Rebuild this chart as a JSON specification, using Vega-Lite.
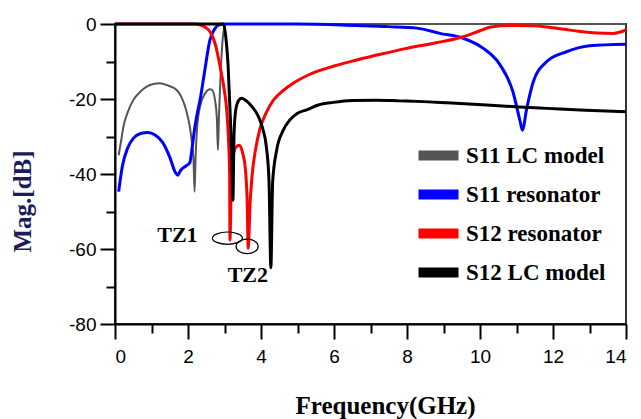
{
  "$schema": "https://vega.github.io/schema/vega-lite/v6.json",
  "width": 511,
  "height": 300,
  "autosize": "none",
  "padding": {"left": 115, "top": 24, "right": 15, "bottom": 95},
  "background": "white",
  "config": {
    "view": {"stroke": "#333333", "strokeWidth": 2},
    "font": "Liberation Sans"
  },
  "datasets": {
    "curves": [
      {"s": "S11 LC model", "f": 0.1, "db": -35},
      {"s": "S11 LC model", "f": 0.17, "db": -31},
      {"s": "S11 LC model", "f": 0.23, "db": -27.4},
      {"s": "S11 LC model", "f": 0.35, "db": -23.5},
      {"s": "S11 LC model", "f": 0.5, "db": -20.3},
      {"s": "S11 LC model", "f": 0.7, "db": -18},
      {"s": "S11 LC model", "f": 0.87, "db": -16.7},
      {"s": "S11 LC model", "f": 1.05, "db": -16},
      {"s": "S11 LC model", "f": 1.23, "db": -15.8},
      {"s": "S11 LC model", "f": 1.45, "db": -16.4},
      {"s": "S11 LC model", "f": 1.69, "db": -17.6},
      {"s": "S11 LC model", "f": 1.82, "db": -19.5},
      {"s": "S11 LC model", "f": 1.92, "db": -22},
      {"s": "S11 LC model", "f": 2.0, "db": -25},
      {"s": "S11 LC model", "f": 2.05, "db": -27.4},
      {"s": "S11 LC model", "f": 2.1, "db": -31},
      {"s": "S11 LC model", "f": 2.15, "db": -36},
      {"s": "S11 LC model", "f": 2.18, "db": -44.7},
      {"s": "S11 LC model", "f": 2.21, "db": -35},
      {"s": "S11 LC model", "f": 2.24, "db": -29},
      {"s": "S11 LC model", "f": 2.33, "db": -22},
      {"s": "S11 LC model", "f": 2.47, "db": -18.5},
      {"s": "S11 LC model", "f": 2.6, "db": -17.4},
      {"s": "S11 LC model", "f": 2.66, "db": -17.6},
      {"s": "S11 LC model", "f": 2.74, "db": -20.3},
      {"s": "S11 LC model", "f": 2.79, "db": -25},
      {"s": "S11 LC model", "f": 2.82, "db": -33.6},
      {"s": "S11 LC model", "f": 2.85, "db": -24},
      {"s": "S11 LC model", "f": 2.9, "db": -12},
      {"s": "S11 LC model", "f": 2.95, "db": -4},
      {"s": "S11 LC model", "f": 3.0, "db": -1},
      {"s": "S11 LC model", "f": 3.05, "db": 0},
      {"s": "S11 LC model", "f": 14, "db": 0},

      {"s": "S11 resonator", "f": 0.1, "db": -44.7},
      {"s": "S11 resonator", "f": 0.2, "db": -38},
      {"s": "S11 resonator", "f": 0.35, "db": -33},
      {"s": "S11 resonator", "f": 0.5, "db": -30.5},
      {"s": "S11 resonator", "f": 0.7, "db": -29.2},
      {"s": "S11 resonator", "f": 0.9, "db": -28.9},
      {"s": "S11 resonator", "f": 1.1, "db": -29.6},
      {"s": "S11 resonator", "f": 1.3, "db": -31.5},
      {"s": "S11 resonator", "f": 1.5, "db": -35.5},
      {"s": "S11 resonator", "f": 1.65, "db": -39.5},
      {"s": "S11 resonator", "f": 1.72, "db": -40.3},
      {"s": "S11 resonator", "f": 1.8, "db": -39},
      {"s": "S11 resonator", "f": 1.95, "db": -37.8},
      {"s": "S11 resonator", "f": 2.05, "db": -37},
      {"s": "S11 resonator", "f": 2.1, "db": -34},
      {"s": "S11 resonator", "f": 2.18, "db": -28},
      {"s": "S11 resonator", "f": 2.25, "db": -24},
      {"s": "S11 resonator", "f": 2.33, "db": -20.3},
      {"s": "S11 resonator", "f": 2.45, "db": -13},
      {"s": "S11 resonator", "f": 2.6, "db": -4.3},
      {"s": "S11 resonator", "f": 2.72, "db": -1.5},
      {"s": "S11 resonator", "f": 2.83, "db": -0.3},
      {"s": "S11 resonator", "f": 3.0, "db": 0},
      {"s": "S11 resonator", "f": 5.0, "db": 0},
      {"s": "S11 resonator", "f": 6.6, "db": -0.4},
      {"s": "S11 resonator", "f": 7.5, "db": -0.7},
      {"s": "S11 resonator", "f": 8.27, "db": -1.1},
      {"s": "S11 resonator", "f": 8.9, "db": -2.5},
      {"s": "S11 resonator", "f": 9.54, "db": -3.8},
      {"s": "S11 resonator", "f": 10.09, "db": -6.5},
      {"s": "S11 resonator", "f": 10.55, "db": -10.9},
      {"s": "S11 resonator", "f": 10.9, "db": -18},
      {"s": "S11 resonator", "f": 11.1, "db": -26},
      {"s": "S11 resonator", "f": 11.16, "db": -28.3},
      {"s": "S11 resonator", "f": 11.28, "db": -22.5},
      {"s": "S11 resonator", "f": 11.46, "db": -15.4},
      {"s": "S11 resonator", "f": 11.83, "db": -10},
      {"s": "S11 resonator", "f": 12.37, "db": -7.4},
      {"s": "S11 resonator", "f": 13.0, "db": -5.8},
      {"s": "S11 resonator", "f": 14.0, "db": -5.4},

      {"s": "S12 resonator", "f": 0, "db": 0},
      {"s": "S12 resonator", "f": 2.19, "db": 0},
      {"s": "S12 resonator", "f": 2.4, "db": -0.5},
      {"s": "S12 resonator", "f": 2.6, "db": -2},
      {"s": "S12 resonator", "f": 2.75, "db": -5.5},
      {"s": "S12 resonator", "f": 2.88, "db": -11.4},
      {"s": "S12 resonator", "f": 3.0, "db": -18},
      {"s": "S12 resonator", "f": 3.06, "db": -22.9},
      {"s": "S12 resonator", "f": 3.11, "db": -31},
      {"s": "S12 resonator", "f": 3.14, "db": -40},
      {"s": "S12 resonator", "f": 3.15, "db": -57.6},
      {"s": "S12 resonator", "f": 3.18, "db": -45},
      {"s": "S12 resonator", "f": 3.23, "db": -36},
      {"s": "S12 resonator", "f": 3.3, "db": -33},
      {"s": "S12 resonator", "f": 3.4, "db": -32.3},
      {"s": "S12 resonator", "f": 3.5, "db": -34.5},
      {"s": "S12 resonator", "f": 3.57, "db": -38.5},
      {"s": "S12 resonator", "f": 3.62, "db": -47},
      {"s": "S12 resonator", "f": 3.65, "db": -59.8},
      {"s": "S12 resonator", "f": 3.7, "db": -48},
      {"s": "S12 resonator", "f": 3.76, "db": -40},
      {"s": "S12 resonator", "f": 3.85, "db": -33.5},
      {"s": "S12 resonator", "f": 3.97, "db": -28},
      {"s": "S12 resonator", "f": 4.15, "db": -23.5},
      {"s": "S12 resonator", "f": 4.34, "db": -20.3},
      {"s": "S12 resonator", "f": 4.6, "db": -17.8},
      {"s": "S12 resonator", "f": 4.88, "db": -15.8},
      {"s": "S12 resonator", "f": 5.34, "db": -13.4},
      {"s": "S12 resonator", "f": 6.0, "db": -11.2},
      {"s": "S12 resonator", "f": 6.62, "db": -9.6},
      {"s": "S12 resonator", "f": 7.3, "db": -8},
      {"s": "S12 resonator", "f": 7.99, "db": -6.5},
      {"s": "S12 resonator", "f": 8.8, "db": -5},
      {"s": "S12 resonator", "f": 9.54, "db": -3.4},
      {"s": "S12 resonator", "f": 10.0, "db": -1.8},
      {"s": "S12 resonator", "f": 10.3, "db": -0.8},
      {"s": "S12 resonator", "f": 10.8, "db": -0.4},
      {"s": "S12 resonator", "f": 11.5, "db": -0.5},
      {"s": "S12 resonator", "f": 11.83, "db": -0.8},
      {"s": "S12 resonator", "f": 12.3, "db": -1.4},
      {"s": "S12 resonator", "f": 12.74, "db": -2},
      {"s": "S12 resonator", "f": 13.2, "db": -2.4},
      {"s": "S12 resonator", "f": 13.65, "db": -2.5},
      {"s": "S12 resonator", "f": 14.0, "db": -1.6},

      {"s": "S12 LC model", "f": 0, "db": 0},
      {"s": "S12 LC model", "f": 2.9, "db": 0},
      {"s": "S12 LC model", "f": 2.97, "db": 0},
      {"s": "S12 LC model", "f": 3.03, "db": -3},
      {"s": "S12 LC model", "f": 3.1, "db": -11.4},
      {"s": "S12 LC model", "f": 3.16, "db": -25},
      {"s": "S12 LC model", "f": 3.2, "db": -36},
      {"s": "S12 LC model", "f": 3.23, "db": -47},
      {"s": "S12 LC model", "f": 3.26, "db": -30},
      {"s": "S12 LC model", "f": 3.3, "db": -23.5},
      {"s": "S12 LC model", "f": 3.38, "db": -20.5},
      {"s": "S12 LC model", "f": 3.47, "db": -19.8},
      {"s": "S12 LC model", "f": 3.6, "db": -20.5},
      {"s": "S12 LC model", "f": 3.75, "db": -22},
      {"s": "S12 LC model", "f": 3.93, "db": -24.7},
      {"s": "S12 LC model", "f": 4.05, "db": -28},
      {"s": "S12 LC model", "f": 4.15, "db": -33},
      {"s": "S12 LC model", "f": 4.22, "db": -42},
      {"s": "S12 LC model", "f": 4.27, "db": -65},
      {"s": "S12 LC model", "f": 4.32, "db": -42},
      {"s": "S12 LC model", "f": 4.43, "db": -33.6},
      {"s": "S12 LC model", "f": 4.6, "db": -28.5},
      {"s": "S12 LC model", "f": 4.79, "db": -25.6},
      {"s": "S12 LC model", "f": 5.0, "db": -23.8},
      {"s": "S12 LC model", "f": 5.25, "db": -22.9},
      {"s": "S12 LC model", "f": 5.57, "db": -21.6},
      {"s": "S12 LC model", "f": 5.98, "db": -20.9},
      {"s": "S12 LC model", "f": 6.5, "db": -20.4},
      {"s": "S12 LC model", "f": 7.17, "db": -20.3},
      {"s": "S12 LC model", "f": 7.8, "db": -20.5},
      {"s": "S12 LC model", "f": 8.45, "db": -20.7},
      {"s": "S12 LC model", "f": 9.1, "db": -21},
      {"s": "S12 LC model", "f": 9.82, "db": -21.4},
      {"s": "S12 LC model", "f": 10.5, "db": -21.8},
      {"s": "S12 LC model", "f": 11.2, "db": -22.2},
      {"s": "S12 LC model", "f": 11.83, "db": -22.5},
      {"s": "S12 LC model", "f": 12.9, "db": -23},
      {"s": "S12 LC model", "f": 14.0, "db": -23.4}
    ],
    "tz1": [{"name": "TZ1", "f": 3.08, "db": -57.1}],
    "tz2": [{"name": "TZ2", "f": 3.62, "db": -59.3}],
    "labels": [
      {"name": "TZ1", "f": 1.71, "db": -56.3},
      {"name": "TZ2", "f": 3.64, "db": -66.9}
    ]
  },
  "encoding": {
    "x": {
      "field": "f",
      "type": "quantitative",
      "scale": {"domain": [0, 14], "nice": false, "zero": false},
      "axis": {
        "title": "Frequency(GHz)",
        "values": [0, 1, 2, 3, 4, 5, 6, 7, 8, 9, 10, 11, 12, 13, 14],
        "labelExpr": "datum.value % 2 == 0 ? datum.label : ''",
        "grid": false,
        "domainColor": "#000000",
        "domainWidth": 2,
        "tickColor": "#000000",
        "tickWidth": 2,
        "tickSize": {"condition": {"test": "datum.value % 2 == 0", "value": 15}, "value": 9},
        "labelFont": "Liberation Sans",
        "labelFontSize": 19,
        "labelColor": "#000000",
        "labelPadding": 8,
        "titleFont": "Liberation Serif",
        "titleFontWeight": "bold",
        "titleFontSize": 25,
        "titleColor": "#000000",
        "titleX": 270,
        "titleY": 89,
        "titleAlign": "center",
        "titleBaseline": "alphabetic"
      }
    },
    "y": {
      "field": "db",
      "type": "quantitative",
      "scale": {"domain": [-80, 0], "nice": false, "zero": false},
      "axis": {
        "title": "Mag.[dB]",
        "values": [-80, -70, -60, -50, -40, -30, -20, -10, 0],
        "labelExpr": "datum.value % 20 == 0 ? replace(datum.label, '\u2212', '-') : ''",
        "grid": false,
        "domainColor": "#000000",
        "domainWidth": 2,
        "tickColor": "#000000",
        "tickWidth": 2,
        "tickSize": {"condition": {"test": "datum.value % 20 == 0", "value": 15}, "value": 9},
        "labelFont": "Liberation Sans",
        "labelFontSize": 19,
        "labelColor": "#000000",
        "labelPadding": 4,
        "titleFont": "Liberation Serif",
        "titleFontWeight": "bold",
        "titleFontSize": 25,
        "titleColor": "#1c1c5c",
        "titleX": -93,
        "titleY": 177,
        "titleAngle": -90,
        "titleAlign": "center",
        "titleBaseline": "middle"
      }
    },
    "color": {
      "field": "s",
      "type": "nominal",
      "scale": {
        "domain": ["S11 LC model", "S11 resonator", "S12 resonator", "S12 LC model"],
        "range": ["#555555", "#0000ff", "#ff0000", "#000000"]
      },
      "legend": {
        "orient": "none",
        "legendX": 312,
        "legendY": 120,
        "title": null,
        "padding": 0,
        "symbolType": "M-4,-1H4V1H-4Z",
        "symbolSize": 100,
        "symbolStrokeWidth": 0,
        "labelFont": "Liberation Serif",
        "labelFontWeight": "bold",
        "labelFontSize": 23,
        "labelColor": "#000000",
        "labelOffset": 16,
        "labelLimit": 300,
        "rowPadding": 15,
        "encode": {
          "symbols": {
            "update": {
              "fill": {"scale": "color", "field": "value"},
              "fillOpacity": {"value": 1},
              "strokeWidth": {"value": 0}
            }
          }
        }
      }
    }
  },
  "layer": [
    {
      "data": {"name": "curves"},
      "transform": [{"filter": "datum.s == 'S11 LC model'"}],
      "mark": {"type": "line", "interpolate": "monotone", "strokeJoin": "round", "strokeWidth": 2}
    },
    {
      "data": {"name": "curves"},
      "transform": [{"filter": "datum.s != 'S11 LC model'"}],
      "mark": {"type": "line", "interpolate": "monotone", "strokeJoin": "round", "strokeWidth": 3}
    },
    {
      "data": {"name": "tz1"},
      "mark": {
        "type": "point",
        "shape": "M-1,0C-1,-0.215,-0.552,-0.41,0,-0.41C0.552,-0.41,1,-0.215,1,0C1,0.215,0.552,0.41,0,0.41C-0.552,0.41,-1,0.215,-1,0Z",
        "size": 900,
        "filled": false,
        "stroke": "#000000",
        "strokeWidth": 1.2,
        "opacity": 1
      },
      "encoding": {"color": {"value": "#000000"}}
    },
    {
      "data": {"name": "tz2"},
      "mark": {
        "type": "point",
        "shape": "M-1,0C-1,-0.375,-0.552,-0.66,0,-0.66C0.552,-0.66,1,-0.375,1,0C1,0.375,0.552,0.66,0,0.66C-0.552,0.66,-1,0.375,-1,0Z",
        "size": 484,
        "filled": false,
        "stroke": "#000000",
        "strokeWidth": 1.2,
        "opacity": 1
      },
      "encoding": {"color": {"value": "#000000"}}
    },
    {
      "data": {"name": "labels"},
      "mark": {
        "type": "text",
        "font": "Liberation Serif",
        "fontWeight": "bold",
        "fontSize": 22,
        "align": "center",
        "baseline": "middle"
      },
      "encoding": {"text": {"field": "name"}, "color": {"value": "#000000"}}
    }
  ]
}
